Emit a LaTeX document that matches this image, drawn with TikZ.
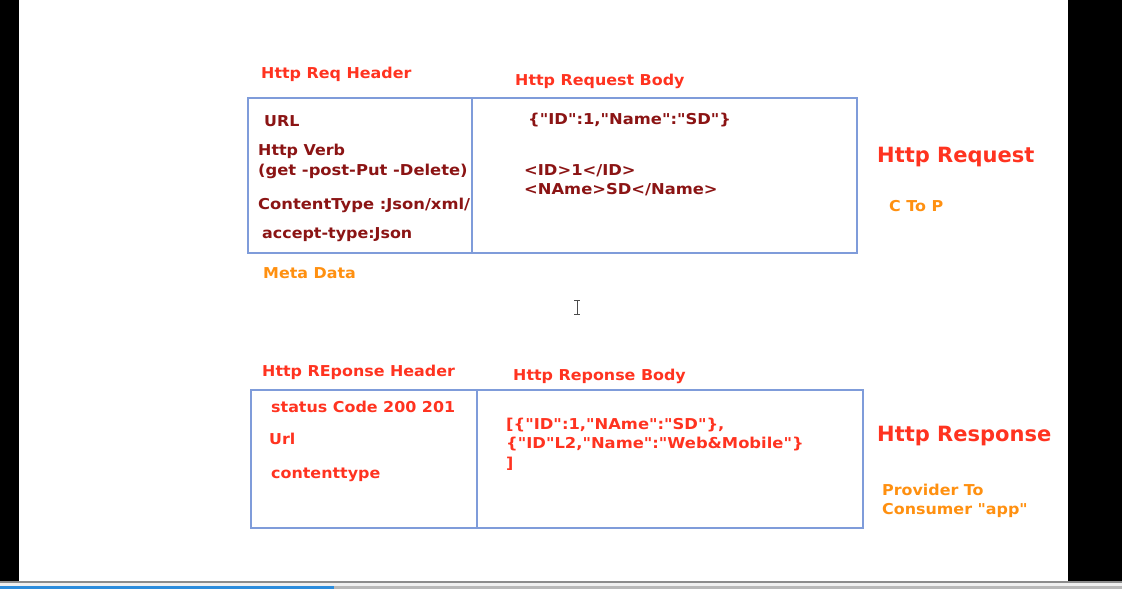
\documentclass[tikz,border=0pt]{standalone}
\usepackage{fontspec}
\setmainfont{DejaVu Sans}[Ligatures=TeXOff]
\newfontfamily\wfont{DejaVu Sans}[FakeStretch=1.06, Ligatures=TeXOff]
\newfontfamily\xfont{DejaVu Sans}[FakeStretch=1.09, Ligatures=TeXOff]
\definecolor{boxblue}{HTML}{7F9CDA}
\definecolor{tred}{HTML}{FF3320}
\definecolor{dred}{HTML}{8B1414}
\definecolor{torange}{HTML}{FF9010}
\definecolor{barblue}{HTML}{2C8CDC}
\tikzset{
  lbl/.style={anchor=base west, inner sep=0pt, font=\wfont\bfseries\fontsize{15}{18}\selectfont},
  wide/.style={font=\xfont\bfseries\fontsize{15}{18}\selectfont},
  big/.style={anchor=base west, inner sep=0pt, font=\bfseries\fontsize{21}{25}\selectfont, text=tred},
  hdr/.style={lbl, text=tred},
  meta/.style={lbl, text=dred},
  org/.style={lbl, text=torange},
  bx/.style={draw=boxblue, line width=1.3pt},
}
\begin{document}
\begin{tikzpicture}[x=1pt,y=-1pt]
\useasboundingbox (0,0) rectangle (1122,589);
\fill[white] (0,0) rectangle (1122,589);
% screen frame
\fill[black] (0,0) rectangle (19,582);
\fill[black] (1068,0) rectangle (1122,582);
\fill[gray!90] (0,581) rectangle (1122,583);
\fill[black!6] (0,583) rectangle (1122,586);
\fill[black!28] (0,586) rectangle (1122,589);
\fill[barblue] (0,586) rectangle (334,589);
% cursor
\draw[black!70, line width=0.9pt] (577,300) -- (577,314) (574,300) -- (580,300) (574,314) -- (580,314);

% request
\draw[bx] (248,98) rectangle (857,253);
\coordinate (rqt) at (472,97);
\coordinate (rqb) at (472,253);
\draw[bx] (rqt) -- (rqb);
\node[hdr] (rqh) at (261,78) {Http Req Header};
\node[hdr] (rqbh) at (515,85) {Http Request Body};
\node[meta] (url) at (264,126) {URL};
\node[meta] (verb) at (258,155) {Http Verb};
\node[meta, wide] (verbs) at (258,175) {(get -post-Put -Delete)};
\node[meta, wide] (ct) at (258,209) {ContentType :Json/xml/};
\node[meta] (acc) at (262,238) {accept-type:Json};
\node[org] (md) at (263,278) {Meta Data};
\node[meta, wide] (json) at (528,124) {\{"ID":1,"Name":"SD"\}};
\node[meta, wide] (x1) at (524,175) {<ID>1</ID>};
\node[meta, wide] (x2) at (524,194) {<NAme>SD</Name>};
\node[big] (req) at (877,162) {Http Request};
\node[org] (ctp) at (889,211) {C To P};

% response
\draw[bx] (251,390) rectangle (863,528);
\coordinate (rst) at (477,390);
\coordinate (rsb) at (477,528);
\draw[bx] (rst) -- (rsb);
\node[hdr] (rsh) at (262,376) {Http REponse Header};
\node[hdr] (rsbh) at (513,380) {Http Reponse Body};
\node[hdr] (sc) at (271,412) {status Code 200 201};
\node[hdr] (rurl) at (269,444) {Url};
\node[hdr] (rct) at (271,478) {contenttype};
\node[hdr, wide] (j1) at (506,429) {[\{"ID":1,"NAme":"SD"\},};
\node[hdr, wide] (j2) at (506,448) {\{"ID"L2,"Name":"Web\&Mobile"\}};
\node[hdr] (j3) at (506,468) {]};
\node[big] (resp) at (877,441) {Http Response};
\node[org] (p2c) at (882,495) {Provider To};
\node[org] (cons) at (882,514) {Consumer "app"};
\end{tikzpicture}
\end{document}
